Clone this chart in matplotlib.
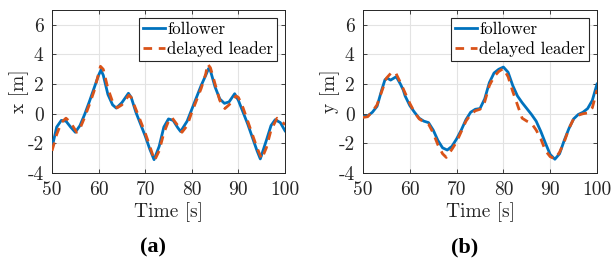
import numpy as np
import matplotlib
matplotlib.use("Agg")
import matplotlib.pyplot as plt

# x-direction (panel a)
t_fx = [50, 51, 52, 53, 54, 55, 56, 57, 58, 59, 60, 60.5, 61, 62, 63, 63.8, 65, 66.4, 67, 68, 69, 70, 71, 71.9,
        73, 74, 75, 76, 77, 77.6, 79, 80, 81, 82, 83, 83.6, 84, 85, 86, 87, 88, 89.2, 90, 91, 92, 93, 94, 94.7,
        96, 97, 97.9, 99, 100]
x_follower = [-2.3, -0.9, -0.45, -0.5, -0.9, -1.25, -0.8, -0.05, 0.8, 1.7, 2.6, 2.95, 2.6, 1.3, 0.6, 0.38, 0.75,
              1.38, 1.1, 0.1, -0.7, -1.5, -2.4, -3.1, -2.2, -0.9, -0.35, -0.45, -0.95, -1.2, -0.5, 0.3, 1.1, 1.9,
              2.6, 3.05, 2.9, 1.8, 1.0, 0.7, 0.8, 1.35, 0.9, 0.1, -0.7, -1.6, -2.5, -3.05, -1.8, -0.8, -0.4, -0.6,
              -1.15]

t_lx = [50, 51, 52, 53, 54, 55.3, 56, 57, 58, 59, 60, 60.4, 61, 62, 63, 64, 65, 66.5, 67, 68, 69, 70, 71, 72, 73,
        74, 75, 75.7, 77, 77.9, 79, 80, 81, 82, 83, 83.4, 84, 85, 86, 87.1, 88, 89.5, 90, 91, 92, 93, 94, 95, 96,
        97, 98.3, 99, 100]
x_leader = [-2.5, -1.4, -0.6, -0.3, -0.6, -1.25, -1.0, -0.25, 0.6, 1.5, 2.7, 3.2, 3.0, 1.7, 0.8, 0.4, 0.6, 1.25,
            1.1, 0.3, -0.5, -1.3, -2.2, -3.15, -2.5, -1.3, -0.5, -0.25, -0.8, -1.25, -0.8, 0.1, 0.9, 1.7, 2.7,
            3.35, 3.1, 2.0, 0.9, 0.35, 0.6, 1.2, 1.1, 0.4, -0.5, -1.4, -2.3, -3.05, -2.3, -1.1, -0.3, -0.4, -0.75]

# y-direction (panel b)
t_fy = [50, 51, 52, 53, 54, 54.7, 55.2, 55.9, 57.1, 58, 58.6, 59, 60, 61, 62, 63, 64, 65, 66, 67, 68, 69, 70, 71,
        72, 73, 74, 75, 76, 77, 78, 79, 80, 81, 82, 83, 84, 85, 86, 87, 88, 89, 90, 91, 92, 93, 94, 95, 96, 97,
        98, 99, 100]
y_follower = [-0.2, -0.15, 0.1, 0.5, 1.6, 2.3, 2.4, 2.27, 2.5, 2.0, 1.6, 1.2, 0.55, 0.1, -0.3, -0.5, -0.6, -1.1,
              -1.8, -2.3, -2.45, -2.2, -1.7, -1.1, -0.4, 0.1, 0.3, 0.35, 1.0, 2.1, 2.75, 3.0, 3.15, 2.8, 1.9, 1.2,
              0.75, 0.35, -0.05, -0.5, -1.2, -2.0, -2.75, -3.07, -2.7, -1.8, -1.0, -0.35, -0.05, 0.1, 0.35, 0.9, 2.0]

t_ly = [50, 51, 52, 53, 54, 55, 56, 56.6, 57, 58, 59, 60, 61, 62, 63, 64, 65, 66, 67, 67.8, 69, 70, 71, 72, 73,
        74, 75, 76, 77, 78, 79, 80, 81, 82, 83, 84, 85, 86, 87, 88, 89, 90, 91, 92, 93, 94, 95, 96, 97, 98, 99,
        100]
y_leader = [-0.25, -0.2, 0.15, 0.6, 1.5, 2.4, 2.75, 2.82, 2.75, 2.1, 1.4, 0.7, 0.1, -0.35, -0.55, -0.7, -1.3,
            -2.1, -2.7, -2.95, -2.4, -1.9, -1.2, -0.5, -0.05, 0.2, 0.3, 0.8, 1.9, 2.5, 2.85, 3.05, 2.5, 1.5, 0.6,
            -0.3, -0.5, -0.65, -1.1, -1.7, -2.5, -2.9, -3.05, -2.6, -1.9, -1.0, -0.35, -0.1, 0.0, 0.05, 0.4, 1.6]

x_ticks = [50, 60, 70, 80, 90, 100]
y_ticks = [-4, -2, 0, 2, 4, 6]

BLUE = '#0072BD'
ORANGE = '#D95319'
DARK = '#262626'

plt.rcParams['font.family'] = 'cmr10'
plt.rcParams['axes.unicode_minus'] = False
plt.rcParams['mathtext.fontset'] = 'cm'

fig = plt.figure(figsize=(6.11, 2.64), dpi=100)

panels = [
    (t_fx, x_follower, t_lx, x_leader, 'x [m]', '(a)', [52 / 611, 91 / 264, 233 / 611, 163 / 264], 153),
    (t_fy, y_follower, t_ly, y_leader, 'y [m]', '(b)', [363 / 611, 91 / 264, 234 / 611, 163 / 264], 465),
]

for tf, vf, tl, vl, ylab, cap, rect, capx in panels:
    ax = fig.add_axes(rect)
    ax.plot(tf, vf, color=BLUE, lw=2.0, label='follower', zorder=3)
    ax.plot(tl, vl, color=ORANGE, lw=2.0, ls=(0, (3.1, 2.4)), label='delayed leader', zorder=4)
    ax.set_xlim(50, 100)
    ax.set_ylim(-4, 7)
    ax.set_xticks(x_ticks)
    ax.set_yticks(y_ticks)
    ax.grid(True, color='#e3e3e3', lw=0.8)
    ax.set_axisbelow(True)
    ax.tick_params(direction='in', length=3, width=0.6, labelsize=14, colors=DARK,
                   top=True, right=True)
    ax.tick_params(axis='x', pad=6)
    ax.tick_params(axis='y', pad=6)
    for s in ax.spines.values():
        s.set_color(DARK)
        s.set_linewidth(0.7)
    ax.set_xlabel('Time [s]', fontsize=14, color=DARK, labelpad=2)
    ax.set_ylabel(ylab, fontsize=14, color=DARK, labelpad=-1)
    leg = ax.legend(loc='upper right', fontsize=12.2, handlelength=1.3, handletextpad=0.1, borderpad=0.25,
                    labelspacing=0.25, borderaxespad=0.45, fancybox=False, framealpha=1)
    leg.get_frame().set_edgecolor(DARK)
    leg.get_frame().set_linewidth(0.8)
    fig.text(capx / 611, 1 - 247 / 264, cap, ha='center', va='center', fontsize=16, fontweight='bold',
             family=['Liberation Serif', 'DejaVu Serif'])

fig.savefig('out.png', dpi=100)
